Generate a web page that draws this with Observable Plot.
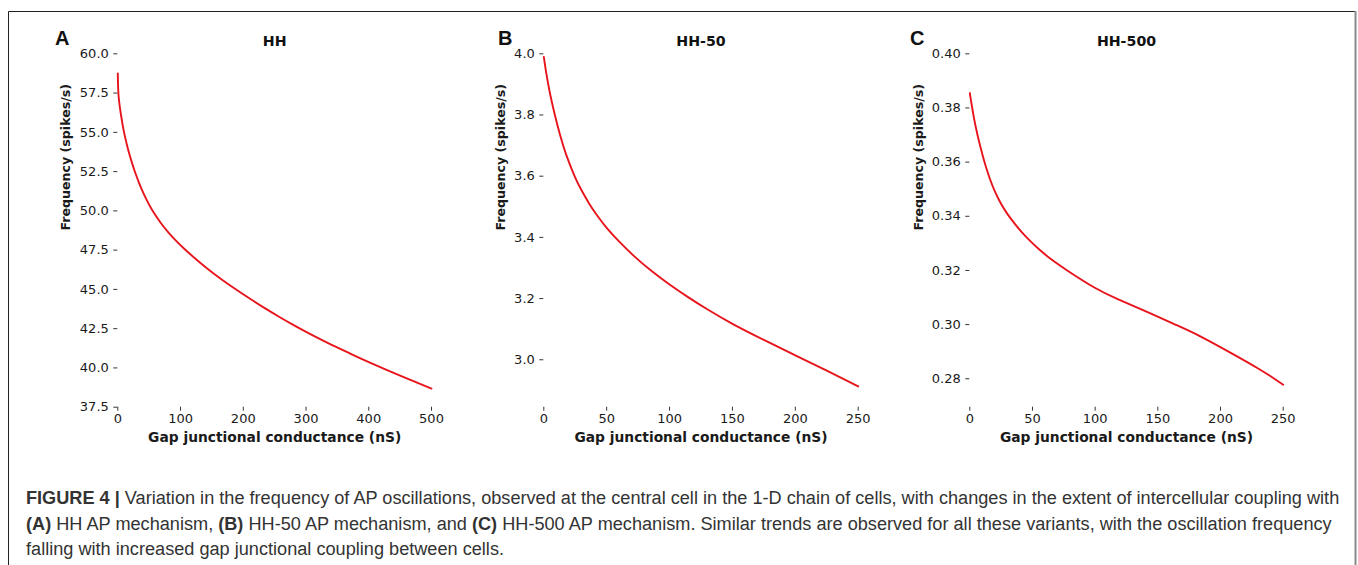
<!DOCTYPE html>
<html>
<head>
<meta charset="utf-8">
<script src="https://cdn.jsdelivr.net/npm/d3@7"></script>
<script src="https://cdn.jsdelivr.net/npm/@observablehq/plot@0.6"></script>
<style>
  body { margin: 0; background: #fff; }
  #fig { position: relative; width: 1358px; height: 565px; overflow: hidden; background: #fff; }
  .panel { position: absolute; top: 0; }
  #overlay { position: absolute; left: 0; top: 0; }
</style>
</head>
<body>
<div id="fig"></div>
<script>
// ---------- data ----------
const hhX   = [0, 0.3, 0.8, 1.5, 2.5, 4, 6, 8, 10, 14, 18.5, 22.5, 27, 34, 41, 48, 55, 68, 81.5, 95, 108, 127, 146, 165, 185, 209, 233, 257, 281, 310, 340, 370, 400, 450, 500];
const hhY   = [58.75, 58.15, 57.6, 57.2, 56.85, 56.4, 55.88, 55.41, 55.0, 54.29, 53.6, 53.07, 52.52, 51.77, 51.11, 50.54, 50.04, 49.26, 48.59, 48.01, 47.51, 46.84, 46.22, 45.65, 45.09, 44.45, 43.84, 43.26, 42.71, 42.09, 41.49, 40.92, 40.37, 39.51, 38.69];

const hh50X = [0, 1, 2, 4, 6, 9, 13, 18, 25, 30, 36, 42, 50, 60, 72, 85, 100, 115, 130, 150, 175, 200, 225, 250];
const hh50Y = [3.99, 3.962, 3.936, 3.89, 3.85, 3.797, 3.734, 3.668, 3.595, 3.554, 3.511, 3.474, 3.431, 3.386, 3.338, 3.2925, 3.246, 3.204, 3.165, 3.1176, 3.065, 3.0145, 2.9645, 2.913];

const hh500X = [0, 1, 2, 3.2, 5, 7.2, 9, 11.2, 14, 16.5, 20, 24.5, 28.5, 32.4, 38, 45.7, 55, 64.4, 78, 99, 118, 140, 165, 185, 210, 230, 240, 250];
const hh500Y = [0.3855, 0.3826, 0.3798, 0.3766, 0.3724, 0.3680, 0.3647, 0.3609, 0.3566, 0.3532, 0.3492, 0.3450, 0.3419, 0.3393, 0.3360, 0.3320, 0.3279, 0.3243, 0.3199, 0.3138, 0.3094, 0.3050, 0.2998, 0.2954, 0.2891, 0.2838, 0.2809, 0.2778];

const panelTitles = ["HH", "HH-50", "HH-500"];
const panelLetters = ["A", "B", "C"];
const xTicksA = [0, 100, 200, 300, 400, 500];
const xTicksBC = [0, 50, 100, 150, 200, 250];
const yTicksA = [37.5, 40, 42.5, 45, 47.5, 50, 52.5, 55, 57.5, 60];
const yTicksB = [3.0, 3.2, 3.4, 3.6, 3.8, 4.0];
const yTicksC = [0.28, 0.30, 0.32, 0.34, 0.36, 0.38, 0.40];
const xLabel = "Gap junctional conductance (nS)";
const yLabel = "Frequency (spikes/s)";
const captionLines = [
  [["FIGURE 4 | ", true], ["Variation in the frequency of AP oscillations, observed at the central cell in the 1-D chain of cells, with changes in the extent of intercellular coupling with", false]],
  [["(A)", true], [" HH AP mechanism, ", false], ["(B)", true], [" HH-50 AP mechanism, and ", false], ["(C)", true], [" HH-500 AP mechanism. Similar trends are observed for all these variants, with the oscillation frequency", false]],
  [["falling with increased gap junctional coupling between cells.", false]]
];

// ---------- panels ----------
const fig = document.getElementById("fig");
const panels = [
  {xs: hhX, ys: hhY, xDomain: [0, 500], yDomain: [37.5, 60], xTicks: xTicksA, yTicks: yTicksA, fmt: d => d.toFixed(1),
   left: 0, width: 460, mL: 117.3, mR: 29, yLabDx: -56.3},
  {xs: hh50X, ys: hh50Y, xDomain: [0, 250], yDomain: [2.845, 4.0], xTicks: xTicksBC, yTicks: yTicksB, fmt: d => d.toFixed(1),
   left: 460, width: 420, mL: 83.3, mR: 22.3, yLabDx: -47.3},
  {xs: hh500X, ys: hh500Y, xDomain: [0, 250], yDomain: [0.2695, 0.40], xTicks: xTicksBC, yTicks: yTicksC, fmt: d => d.toFixed(2),
   left: 900, width: 420, mL: 69.3, mR: 37.3, yLabDx: -56}
];

panels.forEach((p, i) => {
  const data = p.xs.map((x, j) => ({x, y: p.ys[j]}));
  const chart = Plot.plot({
    width: p.width,
    height: 450,
    marginTop: 53.3,
    marginBottom: 43.3,
    marginLeft: p.mL,
    marginRight: p.mR,
    style: {fontFamily: "DejaVu Sans", fontSize: "13px", color: "#1a1a1a", background: "transparent", overflow: "visible"},
    x: {domain: p.xDomain},
    y: {domain: p.yDomain},
    marks: [
      Plot.axisX({ticks: p.xTicks, tickSize: 4, tickPadding: 3, line: true, label: null, fontSize: 13, stroke: "#333"}),
      Plot.axisY({ticks: p.yTicks, tickFormat: p.fmt, tickSize: 4, tickPadding: 5, line: true, label: null, fontSize: 13, stroke: "#333"}),
      Plot.line(data, {x: "x", y: "y", stroke: "#e8141c", strokeWidth: 1.9, curve: "natural"}),
      Plot.text([panelTitles[i]], {frameAnchor: "top", dy: -12.6, fontWeight: "bold", fontSize: 14.2, fill: "#111", lineAnchor: "middle"}),
      Plot.text([xLabel], {frameAnchor: "bottom", dy: 25.4, fontWeight: "bold", fontSize: 13.8, fill: "#1a1a1a", lineAnchor: "top"}),
      Plot.text([yLabel], {frameAnchor: "left", dx: p.yLabDx, rotate: -90, fontWeight: "bold", fontSize: 12.6, fill: "#1a1a1a", lineAnchor: "top"})
    ]
  });
  chart.classList.add("panel");
  chart.style.left = p.left + "px";
  fig.appendChild(chart);
});

// ---------- overlay: frame, panel letters, caption ----------
const svg = d3.select(fig).append("svg")
  .attr("id", "overlay").attr("width", 1358).attr("height", 565);
svg.append("path").attr("d", "M8.5,565 V11.5 H1355").attr("fill", "none").attr("stroke", "#222").attr("stroke-width", 1);
svg.append("line").attr("x1", 1355.5).attr("x2", 1355.5).attr("y1", 11).attr("y2", 565).attr("stroke", "#8a8a8a").attr("stroke-width", 2);

const letterX = [55, 498, 910];
panelLetters.forEach((L, i) => {
  svg.append("text").attr("x", letterX[i]).attr("y", 45)
    .attr("font-family", "Liberation Sans").attr("font-weight", "bold").attr("font-size", 20)
    .attr("fill", "#111").text(L);
});

const baselines = [504, 530, 555];
const capTexts = captionLines.map((segs, k) => {
  const t = svg.append("text").attr("x", 26).attr("y", baselines[k])
    .attr("font-family", "Liberation Sans").attr("font-size", 18).attr("fill", "#333")
    .style("white-space", "pre");
  segs.forEach(([s, b]) => t.append("tspan").attr("font-weight", b ? "bold" : "normal").text(s));
  return t;
});
const w = capTexts[0].node().getComputedTextLength();
const fs = 18 * 1314 / w;
capTexts.forEach(t => t.attr("font-size", fs));
</script>
</body>
</html>
